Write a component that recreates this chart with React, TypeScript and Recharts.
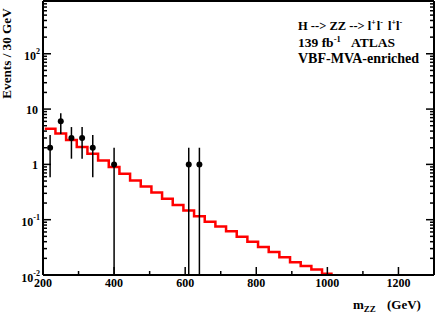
import React from 'react';
import { ComposedChart, Line, Scatter, ErrorBar, XAxis, YAxis } from 'recharts';

// background histogram: lower bin edges (30 GeV bins) and expected events
const binEdges = [205, 235, 265, 295, 325, 355, 385, 415, 445, 475, 505, 535, 565, 595, 625, 655, 685, 715, 745, 775, 805, 835, 865, 895, 925, 955, 985];
const binEnd = 1015;
const bkgValues = [4.4, 3.6, 2.75, 2.07, 1.56, 1.18, 0.9, 0.68, 0.51, 0.4, 0.31, 0.24, 0.185, 0.147, 0.115, 0.092, 0.075, 0.062, 0.049, 0.04, 0.032, 0.026, 0.021, 0.017, 0.0145, 0.0126, 0.0105];

// observed events
const dataMass = [220, 250, 280, 310, 340, 400, 610, 640];
const dataCounts = [2, 6, 3, 3, 2, 1, 1, 1];

const xTicks = [200, 300, 400, 500, 600, 700, 800, 900, 1000, 1100, 1200, 1300];
const yTicks = [
  0.01, 0.02, 0.03, 0.04, 0.05, 0.06, 0.07, 0.08, 0.09,
  0.1, 0.2, 0.3, 0.4, 0.5, 0.6, 0.7, 0.8, 0.9,
  1, 2, 3, 4, 5, 6, 7, 8, 9,
  10, 20, 30, 40, 50, 60, 70, 80, 90,
  100, 200, 300, 400, 500, 600, 700, 800, 900,
];

const Y_MIN = 0.01;
const Y_MAX = 900;
const FONT = "'Liberation Serif', 'DejaVu Serif', serif";

const histData = binEdges
  .map((x, i) => ({ x, y: bkgValues[i] }))
  .concat([{ x: binEnd, y: bkgValues[bkgValues.length - 1] }]);

const pointData = dataMass.map((x, i) => {
  const n = dataCounts[i];
  const e = Math.sqrt(n);
  return { x, y: n, err: [Math.min(e, n - Y_MIN), e] };
});

const isDecade = (v: number) => Math.abs(Math.log10(v) - Math.round(Math.log10(v))) < 1e-6;

const BottomTick = (props: any) => {
  const { x, y, payload } = props;
  const v = payload.value;
  const major = v % 200 === 0;
  return (
    <g>
      <line x1={x} x2={x} y1={y} y2={y - (major ? 8 : 4)} stroke="#000" strokeWidth={1.5} />
      {major && (
        <text x={x} y={y + 12} textAnchor="middle" fontSize={12} fontWeight="bold" fontFamily={FONT} fill="#000">
          {v}
        </text>
      )}
    </g>
  );
};

const TopTick = (props: any) => {
  const { x, y, payload } = props;
  const major = payload.value % 200 === 0;
  return <line x1={x} x2={x} y1={y} y2={y + (major ? 8 : 4)} stroke="#000" strokeWidth={1.5} />;
};

const LeftTick = (props: any) => {
  const { x, y, payload } = props;
  const v = payload.value;
  const major = isDecade(v);
  let label = null;
  if (major) {
    const e = Math.round(Math.log10(v));
    if (e === 0 || e === 1) {
      label = (
        <text x={x - 5} y={y + 4.5} textAnchor="end" fontSize={12} fontWeight="bold" fontFamily={FONT} fill="#000">
          {e === 0 ? '1' : '10'}
        </text>
      );
    } else {
      label = (
        <text x={x - 3} y={y + 6.5} textAnchor="end" fontSize={12} fontWeight="bold" fontFamily={FONT} fill="#000">
          10
          <tspan dy={-6} fontSize={8}>{String(e)}</tspan>
        </text>
      );
    }
  }
  return (
    <g>
      <line x1={x} x2={x + (major ? 8 : 4)} y1={y} y2={y} stroke="#000" strokeWidth={1.5} />
      {label}
    </g>
  );
};

const RightTick = (props: any) => {
  const { x, y, payload } = props;
  const major = isDecade(payload.value);
  return <line x1={x} x2={x - (major ? 8 : 4)} y1={y} y2={y} stroke="#000" strokeWidth={1.5} />;
};

const Dot = (props: any) => <circle cx={props.cx} cy={props.cy} r={3} fill="#000" />;

export default function App() {
  const txt = { fontFamily: FONT, fontWeight: 'bold' as const, fill: '#000' };
  return (
    <div style={{ position: 'absolute', left: 0, top: 0, width: 436, height: 316, background: '#fff' }}>
      <ComposedChart width={436} height={316} margin={{ top: 0, right: 1, bottom: 0, left: 0 }}>
        <XAxis
          dataKey="x"
          type="number"
          domain={[200, 1300]}
          allowDataOverflow
          ticks={xTicks}
          interval={0}
          height={41}
          tickSize={0}
          tickMargin={0}
          tick={BottomTick}
          axisLine={{ stroke: '#000', strokeWidth: 2 }}
        />
        <XAxis
          xAxisId="top"
          orientation="top"
          type="number"
          domain={[200, 1300]}
          allowDataOverflow
          ticks={xTicks}
          interval={0}
          height={1}
          tickSize={0}
          tickMargin={0}
          tick={TopTick}
          axisLine={{ stroke: '#000', strokeWidth: 2 }}
        />
        <YAxis
          dataKey="y"
          type="number"
          scale="log"
          domain={[Y_MIN, Y_MAX]}
          allowDataOverflow
          ticks={yTicks}
          interval={0}
          width={43}
          tickSize={0}
          tickMargin={0}
          tick={LeftTick}
          axisLine={{ stroke: '#000', strokeWidth: 2 }}
        />
        <YAxis
          yAxisId="right"
          orientation="right"
          type="number"
          scale="log"
          domain={[Y_MIN, Y_MAX]}
          allowDataOverflow
          ticks={yTicks}
          interval={0}
          width={1}
          tickSize={0}
          tickMargin={0}
          tick={RightTick}
          axisLine={{ stroke: '#000', strokeWidth: 2 }}
        />
        <Line
          data={histData}
          dataKey="y"
          type="stepAfter"
          stroke="#ff0000"
          strokeWidth={2.5}
          dot={false}
          isAnimationActive={false}
        />
        <Scatter data={pointData} dataKey="y" shape={Dot} isAnimationActive={false}>
          <ErrorBar dataKey="err" direction="y" width={0} stroke="#000" strokeWidth={1.5} isAnimationActive={false} />
        </Scatter>
      </ComposedChart>
      <svg width={436} height={316} style={{ position: 'absolute', left: 0, top: 0, pointerEvents: 'none' }}>
        <text transform="translate(10.5,53.5) rotate(-90)" textAnchor="middle" fontSize={13.2} {...txt}>
          Events / 30 GeV
        </text>
        <text x={353} y={308.5} fontSize={13} {...txt}>
          m<tspan dy={3.5} fontSize={9}>ZZ</tspan>
          <tspan x={387} dy={-3.5}>(GeV)</tspan>
        </text>
        <text x={298} y={29.5} fontSize={12.5} {...txt}>
          {'H --> ZZ --> l'}
          <tspan dy={-5} fontSize={8}>+</tspan>
          <tspan dy={5} dx={1}>l</tspan>
          <tspan dy={-5} fontSize={8}>-</tspan>
          <tspan dy={5} dx={5}>l</tspan>
          <tspan dy={-5} fontSize={8}>+</tspan>
          <tspan dy={5}>l</tspan>
          <tspan dy={-5} fontSize={8}>-</tspan>
        </text>
        <text x={298} y={46.7} fontSize={13.5} {...txt}>
          {'139 fb'}
          <tspan dy={-5} fontSize={8.5}>-1</tspan>
          <tspan x={351} dy={5}>ATLAS</tspan>
        </text>
        <text x={298} y={63.3} fontSize={14} {...txt}>
          VBF-MVA-enriched
        </text>
      </svg>
    </div>
  );
}
